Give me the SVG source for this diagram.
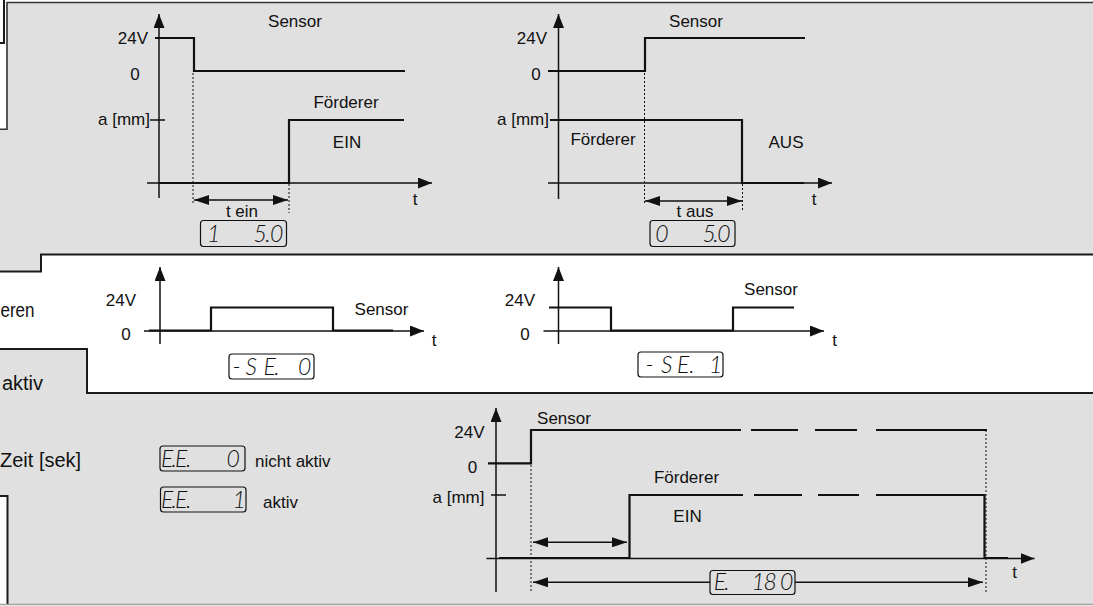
<svg xmlns="http://www.w3.org/2000/svg" width="1093" height="606" viewBox="0 0 1093 606">
<style>
.lbl{font-family:"Liberation Sans",Arial,sans-serif;font-size:17px;fill:#111}
.big{font-size:20px}
.mid{text-anchor:middle}
.end{text-anchor:end}
.seg{font-family:Lato,"Liberation Sans",sans-serif;font-style:italic;font-weight:300;font-size:23px;fill:#111}
.sig{stroke:#111;stroke-width:2.2;fill:none}
.ax{stroke:#111;stroke-width:1.5;fill:none}
.axa{stroke:#111;stroke-width:1.5;fill:none;marker-end:url(#ah)}
.dot{stroke:#111;stroke-width:1;stroke-dasharray:2 2;fill:none}
.dim{stroke:#111;stroke-width:1.5;fill:none;marker-start:url(#dh);marker-end:url(#dh)}
.frame{stroke:#1a1a1a;stroke-width:2;fill:none}
.boxg{fill:#e0e0e0;stroke:#111;stroke-width:1.2}
.boxw{fill:#fff;stroke:#111;stroke-width:1.2}
</style>
<defs>
<marker id="ah" viewBox="0 0 14 11" refX="14" refY="5.5" markerWidth="14" markerHeight="11" markerUnits="userSpaceOnUse" orient="auto"><path d="M0,0 L14,5.5 L0,11 Z" fill="#111"/></marker>
<marker id="dh" viewBox="0 0 15 10" refX="15" refY="5" markerWidth="15" markerHeight="10" markerUnits="userSpaceOnUse" orient="auto-start-reverse"><path d="M0,0 L15,5 L0,10 Z" fill="#111"/></marker>
</defs>
<rect x="0" y="0" width="1093" height="606" fill="#fff"/>
<g id="panels">
<polygon points="7,2 1093,2 1093,254.5 41,254.5 41,271.5 0,271.5 0,129.3 7,129.3" fill="#e0e0e0"/>
<polygon points="0,349 87,349 87,393 1093,393 1093,604 7.5,604 7.5,496 0,496" fill="#e0e0e0"/>
<polyline class="frame" points="0,43 4,43 4,0"/>
<polyline class="frame" points="0,129.3 7,129.3 7,2.5 1093,2.5" style="stroke:#333;stroke-width:1.6"/>
<polyline class="frame" points="0,271.5 41,271.5 41,254.5 1093,254.5"/>
<polyline class="frame" points="0,349 87,349 87,393 1093,393"/>
<polyline class="frame" points="0,496 7.5,496 7.5,604"/>
<line x1="0" y1="604.5" x2="1093" y2="604.5" stroke="#a0a0a0" stroke-width="1.5"/>
<text class="lbl big" x="0.5" y="317" textLength="34" lengthAdjust="spacingAndGlyphs">eren</text>
<text class="lbl big end" x="43" y="390">aktiv</text>
<text class="lbl big" x="0" y="467">Zeit [sek]</text>
</g>
<g id="chart-ein">
<line class="axa" x1="159" y1="198" x2="159" y2="14"/>
<line class="axa" x1="147" y1="183" x2="432" y2="183"/>
<polyline class="sig" points="155,38 194,38 194,71 405,71"/>
<polyline class="sig" points="159,183 289,183 289,120 404,120"/>
<line class="ax" x1="150" y1="120" x2="165" y2="120"/>
<text class="lbl mid" x="295" y="27">Sensor</text>
<text class="lbl end" x="148" y="44">24V</text>
<text class="lbl mid" x="135" y="80">0</text>
<text class="lbl end" x="150" y="125">a [mm]</text>
<text class="lbl mid" x="346" y="108">Förderer</text>
<text class="lbl mid" x="347" y="148">EIN</text>
<text class="lbl mid" x="415" y="205">t</text>
<text class="lbl mid" x="242" y="217">t ein</text>
<rect class="boxg" x="200.5" y="220.5" width="86" height="26" rx="3"/>
<text class="seg" x="207 225 240 253.6 265.3 270" y="242" xml:space="preserve">1  5.0</text>
</g>
<g id="chart-aus">
<line class="axa" x1="558.5" y1="199" x2="558.5" y2="14"/>
<line class="axa" x1="548" y1="183" x2="832" y2="183"/>
<polyline class="sig" points="548,71 645,71 645,38 805,38"/>
<polyline class="sig" points="550,120 742,120 742,183 804,183"/>
<text class="lbl mid" x="696" y="27">Sensor</text>
<text class="lbl end" x="547" y="44">24V</text>
<text class="lbl mid" x="536" y="80">0</text>
<text class="lbl end" x="549" y="125">a [mm]</text>
<text class="lbl mid" x="603" y="145">Förderer</text>
<text class="lbl mid" x="786" y="148">AUS</text>
<text class="lbl mid" x="814" y="205">t</text>
<text class="lbl mid" x="695" y="217">t aus</text>
<rect class="boxg" x="650" y="220.5" width="85" height="26" rx="3"/>
<text class="seg" x="655.2 675 690 702.6 713.3 717.3" y="242" xml:space="preserve">0  5.0</text>
</g>
<g id="chart-se0">
<line class="axa" x1="160" y1="344" x2="160" y2="267"/>
<line class="axa" x1="144" y1="331" x2="424" y2="331"/>
<polyline class="sig" points="149,330.5 211,330.5 211,307.5 333,307.5 333,330.5 393,330.5"/>
<text class="lbl end" x="136" y="306">24V</text>
<text class="lbl mid" x="126" y="340">0</text>
<text class="lbl mid" x="381.5" y="315">Sensor</text>
<text class="lbl mid" x="434" y="346">t</text>
<rect class="boxw" x="229" y="354" width="85" height="25" rx="3"/>
<text class="seg" x="232.5 245.6 263.5 274.3 285 298" y="375" xml:space="preserve">-SE. 0</text>
</g>
<g id="chart-se1">
<line class="axa" x1="558.5" y1="344" x2="558.5" y2="267"/>
<line class="axa" x1="543.5" y1="331" x2="824" y2="331"/>
<polyline class="sig" points="549,307.5 611,307.5 611,330.5 733,330.5 733,307.5 794,307.5"/>
<text class="lbl end" x="535" y="306">24V</text>
<text class="lbl mid" x="525" y="340">0</text>
<text class="lbl mid" x="771" y="295">Sensor</text>
<text class="lbl mid" x="834.5" y="346">t</text>
<rect class="boxw" x="638" y="352" width="85" height="25" rx="3"/>
<text class="seg" x="645.5 661 677 689.3 698 709" y="373" xml:space="preserve">-SE. 1</text>
</g>
<g id="ee-settings">
<rect class="boxg" x="160" y="446" width="85" height="25" rx="3"/>
<text class="seg" x="161 171.5 175 186 195 210 226.6" y="467" xml:space="preserve">E.E.  0</text>
<text class="lbl" x="255" y="467">nicht aktiv</text>
<rect class="boxg" x="160.5" y="487" width="85.5" height="25" rx="3"/>
<text class="seg" x="161 171.5 175 186 195 210 232.6" y="508" xml:space="preserve">E.E.  1</text>
<text class="lbl" x="263" y="508">aktiv</text>
</g>
<g id="chart-ee">
<line class="axa" x1="496" y1="592" x2="496" y2="408"/>
<line class="axa" x1="486.5" y1="558.5" x2="1034.5" y2="558.5"/>
<polyline class="sig" points="488,463.3 531,463.3 531,430 741,430"/>
<line class="sig" x1="751" y1="430" x2="798" y2="430"/>
<line class="sig" x1="815" y1="430" x2="857" y2="430"/>
<line class="sig" x1="876" y1="430" x2="987" y2="430"/>
<polyline class="sig" points="499,558 629.5,558 629.5,495 743,495"/>
<line class="sig" x1="754" y1="495" x2="802" y2="495"/>
<line class="sig" x1="818" y1="495" x2="859" y2="495"/>
<polyline class="sig" points="876,495 984.5,495 984.5,558 1008,558"/>
<line class="ax" x1="491" y1="495" x2="506" y2="495"/>
<text class="lbl mid" x="564" y="424">Sensor</text>
<text class="lbl end" x="484.5" y="438">24V</text>
<text class="lbl mid" x="472.5" y="473">0</text>
<text class="lbl end" x="484.5" y="503">a [mm]</text>
<text class="lbl mid" x="686.5" y="483">Förderer</text>
<text class="lbl mid" x="687.5" y="522">EIN</text>
<text class="lbl mid" x="1014.5" y="578">t</text>
</g>
<g id="connectors">
<line class="dot" x1="193" y1="73" x2="193" y2="205"/>
<line class="dot" x1="289" y1="184" x2="289" y2="213"/>
<line class="dim" x1="194" y1="200" x2="288" y2="200"/>
<line class="dot" x1="644.5" y1="73" x2="644.5" y2="205"/>
<line class="dot" x1="742.5" y1="184" x2="742.5" y2="212"/>
<line class="dim" x1="645" y1="201" x2="742" y2="201"/>
<line class="dot" x1="531" y1="465" x2="531" y2="593"/>
<line class="dot" x1="986" y1="430" x2="986" y2="593"/>
<line class="dim" x1="533" y1="542.3" x2="627" y2="542.3"/>
<line class="dim" x1="533" y1="582.3" x2="983" y2="582.3"/>
<rect class="boxg" x="710" y="570.5" width="85" height="24" rx="3"/>
<text class="seg" x="713.8 724.3 735 745 751.6 763.6 780" y="590" xml:space="preserve">E.  180</text>
</g>
</svg>
